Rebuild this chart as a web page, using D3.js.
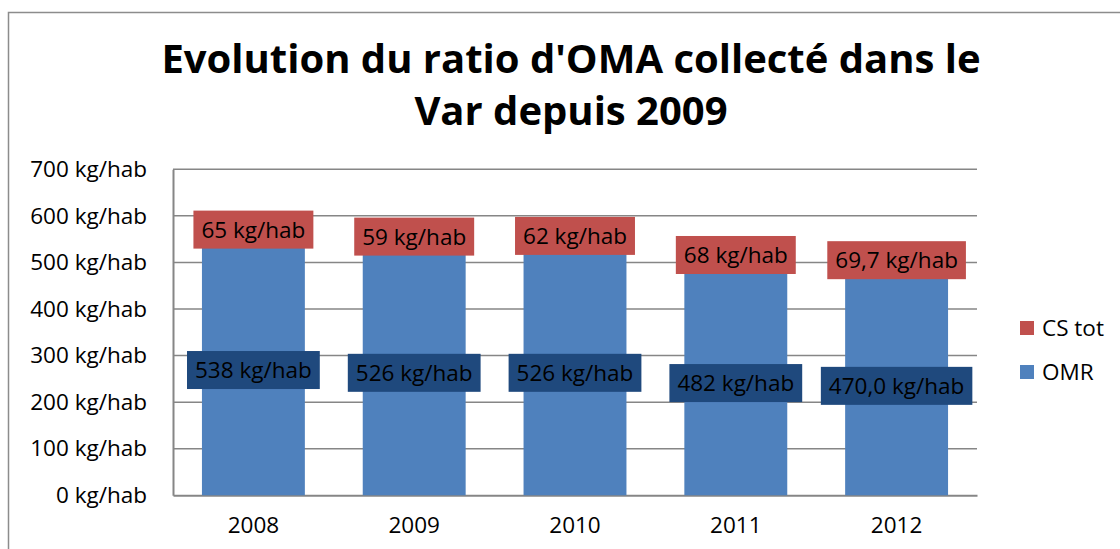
<!DOCTYPE html>
<html lang="fr">
<head>
    <meta charset="UTF-8">
    <title>Evolution du ratio d'OMA</title>
    <script src="https://cdnjs.cloudflare.com/ajax/libs/d3/7.8.5/d3.min.js"></script>
    <style>
        body { margin: 0; background: #fff; }
        svg { display: block; font-family: "Open Sans", sans-serif; }
    </style>
</head>
<body>
<svg id="chart" width="1120" height="549"></svg>

<script>
    // Chart data
    const years = ["2008", "2009", "2010", "2011", "2012"];
    const omr = [538, 526, 526, 482, 470.0];
    const csTot = [65, 59, 62, 68, 69.7];
    const omrLabels = ["538 kg/hab", "526 kg/hab", "526 kg/hab", "482 kg/hab", "470,0 kg/hab"];
    const csLabels = ["65 kg/hab", "59 kg/hab", "62 kg/hab", "68 kg/hab", "69,7 kg/hab"];
    const yTicks = [0, 100, 200, 300, 400, 500, 600, 700];
    const seriesNames = ["CS tot", "OMR"];

    const colors = { omr: "#4F81BD", cs: "#C0504D", omrBox: "#1F497D", grid: "#868686" };
    const fontSize = 22.5;

    const svg = d3.select("#chart");

    // outer chart border (only left + top are visible in the frame)
    svg.append("rect")
        .attr("x", 8.5).attr("y", 12.5)
        .attr("width", 1140).attr("height", 580)
        .attr("fill", "none").attr("stroke", "#8c8c8c").attr("stroke-width", 1.5);

    // title
    const title = svg.append("text")
        .attr("text-anchor", "middle")
        .attr("font-weight", "bold")
        .attr("font-size", 40)
        .attr("fill", "#000");
    title.append("tspan").attr("x", 571).attr("y", 73).text("Evolution du ratio d'OMA collecté dans le");
    title.append("tspan").attr("x", 571).attr("y", 125).text("Var depuis 2009");

    // scales
    const x = d3.scaleBand().domain(years).range([173, 977]).paddingInner(0.36).paddingOuter(0.18);
    const y = d3.scaleLinear().domain([0, 700]).range([495.3, 169.3]);

    // gridlines
    svg.append("g")
        .selectAll("line")
        .data(yTicks.filter(d => d > 0))
        .join("line")
        .attr("x1", 173).attr("x2", 977)
        .attr("y1", d => y(d)).attr("y2", d => y(d))
        .attr("stroke", colors.grid).attr("stroke-width", 1.5);

    // y axis
    const yAxis = svg.append("g")
        .attr("transform", "translate(173,0)")
        .call(d3.axisLeft(y).tickValues(yTicks).tickSize(0).tickPadding(26)
            .tickFormat(d => d + " kg/hab"));
    yAxis.select(".domain").attr("stroke", colors.grid).attr("stroke-width", 2);
    yAxis.selectAll("text").attr("font-size", fontSize).attr("fill", "#000")
        .attr("font-family", "Open Sans, sans-serif");

    // x axis
    const xAxis = svg.append("g")
        .attr("transform", "translate(0,495.3)")
        .call(d3.axisBottom(x).tickSize(0).tickPadding(22));
    xAxis.select(".domain").attr("stroke", colors.grid).attr("stroke-width", 2);
    xAxis.selectAll("text").attr("font-size", fontSize).attr("fill", "#000")
        .attr("font-family", "Open Sans, sans-serif");

    const rows = years.map((yr, i) => ({
        year: yr, omr: omr[i], cs: csTot[i], omrLabel: omrLabels[i], csLabel: csLabels[i]
    }));

    // bars: OMR at the bottom, CS tot stacked on top
    const bars = svg.append("g");
    bars.selectAll("rect.omr")
        .data(rows)
        .join("rect")
        .attr("class", "omr")
        .attr("x", d => x(d.year))
        .attr("width", x.bandwidth())
        .attr("y", d => y(d.omr))
        .attr("height", d => y(0) - y(d.omr))
        .attr("fill", colors.omr);
    bars.selectAll("rect.cs")
        .data(rows)
        .join("rect")
        .attr("class", "cs")
        .attr("x", d => x(d.year))
        .attr("width", x.bandwidth())
        .attr("y", d => y(d.omr + d.cs))
        .attr("height", d => y(d.omr) - y(d.omr + d.cs))
        .attr("fill", colors.cs);

    // data labels with a filled box behind the text
    function addLabel(cx, cy, text, fill) {
        const g = svg.append("g");
        const t = g.append("text")
            .attr("x", cx).attr("y", cy)
            .attr("text-anchor", "middle")
            .attr("dy", "0.36em")
            .attr("font-size", fontSize)
            .attr("fill", "#000")
            .text(text);
        const w = t.node().getComputedTextLength() + 16;
        g.insert("rect", "text")
            .attr("x", cx - w / 2).attr("y", cy - 19)
            .attr("width", w).attr("height", 38)
            .attr("fill", fill);
    }

    rows.forEach(d => {
        const cx = x(d.year) + x.bandwidth() / 2;
        addLabel(cx, y(d.omr / 2), d.omrLabel, colors.omrBox);
        addLabel(cx, y(d.omr + d.cs / 2), d.csLabel, colors.cs);
    });

    // legend
    const legend = svg.append("g");
    const legendColors = [colors.cs, colors.omr];
    seriesNames.forEach((name, i) => {
        const ly = 321 + i * 44;
        legend.append("rect")
            .attr("x", 1020).attr("y", ly)
            .attr("width", 14).attr("height", 14)
            .attr("fill", legendColors[i]);
        legend.append("text")
            .attr("x", 1042).attr("y", ly + 7)
            .attr("dy", "0.36em")
            .attr("font-size", fontSize)
            .attr("fill", "#000")
            .text(name);
    });
</script>
</body>
</html>
